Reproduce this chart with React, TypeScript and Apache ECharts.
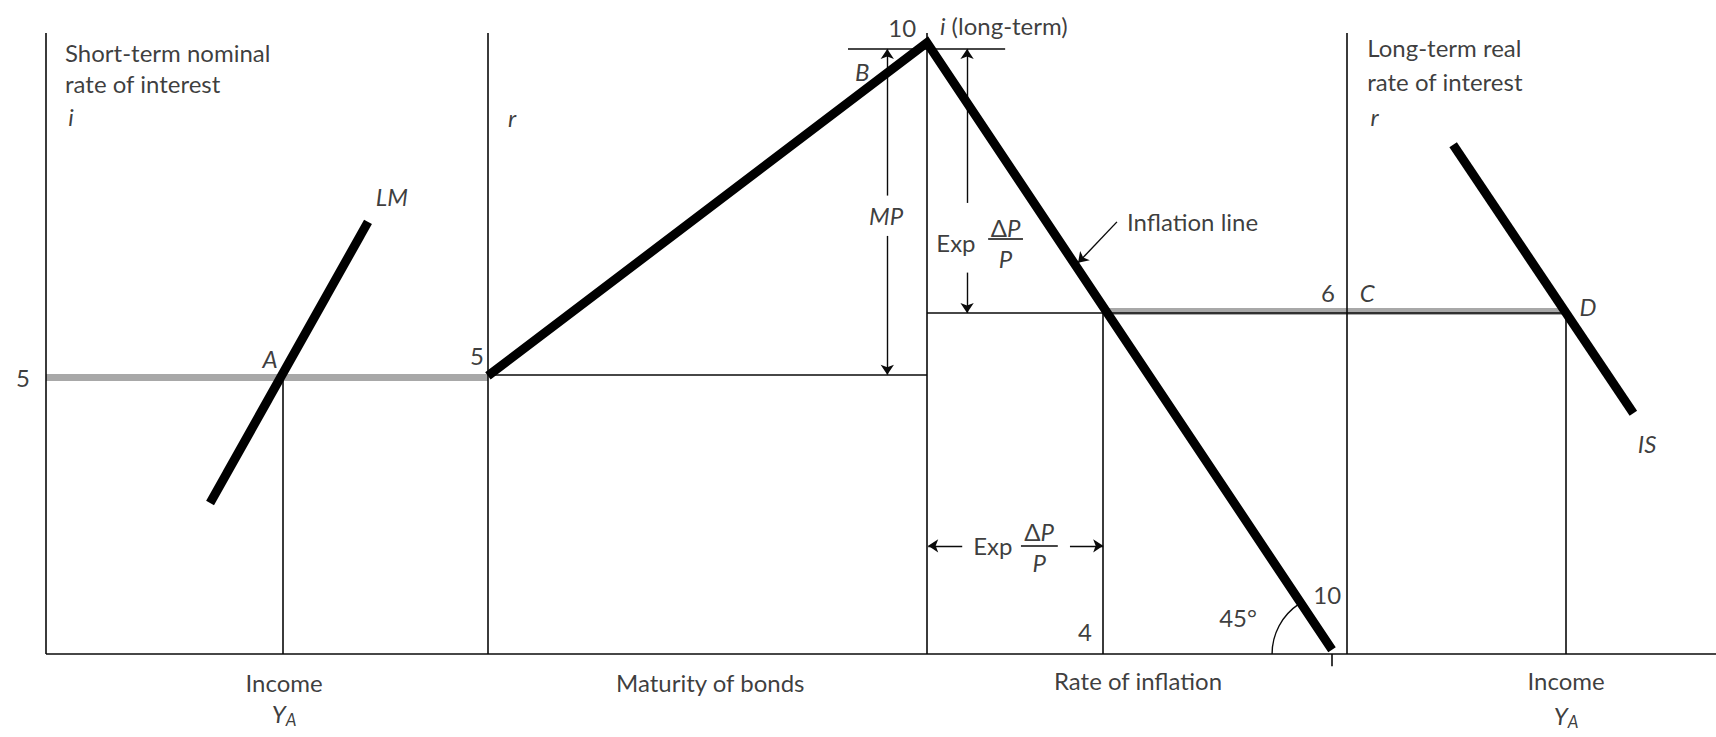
import React, { useEffect, useRef } from 'react';
import * as echarts from 'echarts';

// Diagram units: y = interest-rate scale (peak of term structure = 10, x-axis = 0),
// x = diagram width units (inflation panel spans 0..10 from its axis to the 45° line's foot).
const X_RANGE = [-1.136, 41.23];
const Y_RANGE = [-1.358, 10.7];

// Panel axes and the common horizontal axis
const axisFrame: number[][][] = [
  [[0, 10.16], [0, 0]],
  [[0, 0], [41.23, 0]],
  [[10.91, 10.16], [10.91, 0]],
  [[21.75, 10.16], [21.75, 0]],
  [[32.12, 10.16], [32.12, 0]],
];

// Thin guide lines
const guides: number[][][] = [
  [[5.85, 4.55], [5.85, 0]],
  [[10.91, 4.57], [21.75, 4.57]],
  [[19.8, 9.9], [23.68, 9.9]],
  [[21.75, 5.58], [26.1, 5.58]],
  [[26.1, 5.58], [37.51, 5.58]],
  [[26.1, 5.58], [26.1, 0]],
  [[37.51, 5.58], [37.51, 0]],
  [[31.75, 0], [31.75, -0.2]],
];

// Grey equilibrium rate bands (5 short-term nominal, 6 long-term real)
const rateBands: number[][][] = [
  [[0, 4.53], [10.91, 4.53]],
  [[26.1, 5.61], [37.51, 5.61]],
];

// Curves
const lmCurve = [[4.05, 2.47], [7.95, 7.07]];
const termAndInflation = [[10.91, 4.55], [21.75, 10.0], [31.75, 0.07]];
const isCurve = [[34.74, 8.33], [39.19, 3.94]];

// Arrows (arrow head at second point)
const arrows: number[][][] = [
  [[20.77, 7.5], [20.77, 9.9]],
  [[20.77, 6.84], [20.77, 4.57]],
  [[22.74, 7.38], [22.74, 9.9]],
  [[22.74, 6.24], [22.74, 5.58]],
  [[22.62, 1.77], [21.78, 1.77]],
  [[25.28, 1.77], [26.1, 1.77]],
  [[26.44, 7.07], [25.48, 6.4]],
];

// Fraction bars of ΔP/P
const fractionBars: number[][][] = [
  [[23.26, 6.79], [24.12, 6.79]],
  [[24.07, 1.77], [24.98, 1.77]],
];

// 45° angle arc at foot of inflation line
const angleArc = { center: [31.75, 0], radius: 1.48 };

type Lbl = [string, number, number, string?];
const labels: Lbl[] = [
  ['{n|Short-term nominal}', 0.47, 9.84, 'left'],
  ['{n|rate of interest}', 0.47, 9.33, 'left'],
  ['{it|i}', 0.55, 8.79, 'left'],
  ['{n|5}', -0.57, 4.52],
  ['{it|A}', 5.53, 4.84],
  ['{it|LM}', 8.54, 7.48],
  ['{n|5}', 10.64, 4.89],
  ['{it|r}', 11.51, 8.77],
  ['{it|B}', 20.15, 9.53],
  ['{it|MP}', 20.74, 7.17],
  ['{n|10}', 21.14, 10.25],
  ['{it|i}{n| (long-term)}', 22.07, 10.29, 'left'],
  ['{n|Exp}', 21.98, 6.74, 'left'],
  ['{n|Δ}{it|P}', 23.69, 6.97],
  ['{it|P}', 23.69, 6.47],
  ['{n|Inflation line}', 26.69, 7.07, 'left'],
  ['{n|6}', 31.65, 5.92],
  ['{it|C}', 32.62, 5.92],
  ['{it|D}', 38.07, 5.68],
  ['{it|IS}', 39.53, 3.45],
  ['{n|Long-term real}', 32.62, 9.92, 'left'],
  ['{n|rate of interest}', 32.62, 9.36, 'left'],
  ['{it|r}', 32.7, 8.79, 'left'],
  ['{n|Exp}', 22.89, 1.77, 'left'],
  ['{n|Δ}{it|P}', 24.52, 2.0],
  ['{it|P}', 24.52, 1.5],
  ['{n|4}', 25.65, 0.36],
  ['{n|45°}', 29.43, 0.59],
  ['{n|10}', 31.63, 0.97],
  ['{n|Income}', 5.88, -0.47],
  ['{it|Y}{sub|A}', 5.88, -0.97],
  ['{n|Maturity of bonds}', 16.4, -0.47],
  ['{n|Rate of inflation}', 26.96, -0.43],
  ['{n|Income}', 37.53, -0.43],
  ['{it|Y}{sub|A}', 37.53, -1.0],
];

const FONT = 'Lato, "Noto Sans", sans-serif';
const INK = '#0a0a0a';

export default function App() {
  const ref = useRef<HTMLDivElement>(null);
  useEffect(() => {
    if (!ref.current) return;
    const chart = echarts.init(ref.current, undefined, { renderer: 'svg' });
    const seg = (arr: number[][][]) => arr.map((c) => ({ coords: c }));
    const rich = {
      n: { fontSize: 24, fontFamily: FONT, color: INK, lineHeight: 30 },
      it: { fontSize: 24, fontFamily: FONT, color: INK, fontStyle: 'italic', lineHeight: 30 },
      sub: { fontSize: 17, fontFamily: FONT, color: INK, fontStyle: 'italic', lineHeight: 15, verticalAlign: 'bottom' },
    };
    chart.setOption({
      animation: false,
      backgroundColor: '#ffffff',
      grid: { left: 0, right: 0, top: 0, bottom: 0 },
      xAxis: { type: 'value', min: X_RANGE[0], max: X_RANGE[1], show: false },
      yAxis: { type: 'value', min: Y_RANGE[0], max: Y_RANGE[1], show: false },
      series: [
        {
          type: 'lines', coordinateSystem: 'cartesian2d', silent: true, z: 1,
          lineStyle: { color: '#a8a8a8', width: 7, opacity: 1 },
          data: seg(rateBands),
        },
        {
          type: 'lines', coordinateSystem: 'cartesian2d', silent: true, z: 2,
          lineStyle: { color: INK, width: 1.6, opacity: 1 },
          data: seg(axisFrame.concat(guides, fractionBars)),
        },
        {
          type: 'lines', coordinateSystem: 'cartesian2d', silent: true, z: 3,
          lineStyle: { color: INK, width: 1.4, opacity: 1 },
          symbol: ['none', 'arrow'], symbolSize: 10,
          data: seg(arrows),
        },
        {
          type: 'lines', coordinateSystem: 'cartesian2d', silent: true, z: 4, polyline: true,
          lineStyle: { color: '#000', width: 9, opacity: 1, join: 'miter', cap: 'butt' },
          data: [{ coords: lmCurve }, { coords: termAndInflation }, { coords: isCurve }],
        },
        {
          type: 'custom', coordinateSystem: 'cartesian2d', silent: true, z: 3,
          data: [[angleArc.center[0], angleArc.center[1]]],
          renderItem: (params: any, api: any) => {
            const c = api.coord([api.value(0), api.value(1)]);
            const r = api.size([angleArc.radius, 0])[0];
            const top = api.coord(termAndInflation[1]);
            const foot = api.coord(termAndInflation[2]);
            const ang = Math.atan2(top[1] - foot[1], top[0] - foot[0]);
            return {
              type: 'arc',
              shape: { cx: c[0], cy: c[1], r, startAngle: Math.PI, endAngle: ang + 2 * Math.PI, clockwise: true },
              style: { stroke: INK, lineWidth: 1.4, fill: 'none' },
            };
          },
        },
        {
          type: 'scatter', silent: true, z: 10, symbolSize: 1,
          itemStyle: { color: 'rgba(0,0,0,0)' },
          data: labels.map(([t, x, y, a]) => ({
            value: [x, y],
            label: {
              show: true, position: 'inside', formatter: t, rich,
              align: a || 'center', verticalAlign: 'middle',
            },
          })),
        },
      ],
    });
    return () => chart.dispose();
  }, []);
  return (
    <div
      ref={ref}
      style={{ position: 'fixed', left: 0, top: 0, width: 1716, height: 737, background: '#fff' }}
    />
  );
}
